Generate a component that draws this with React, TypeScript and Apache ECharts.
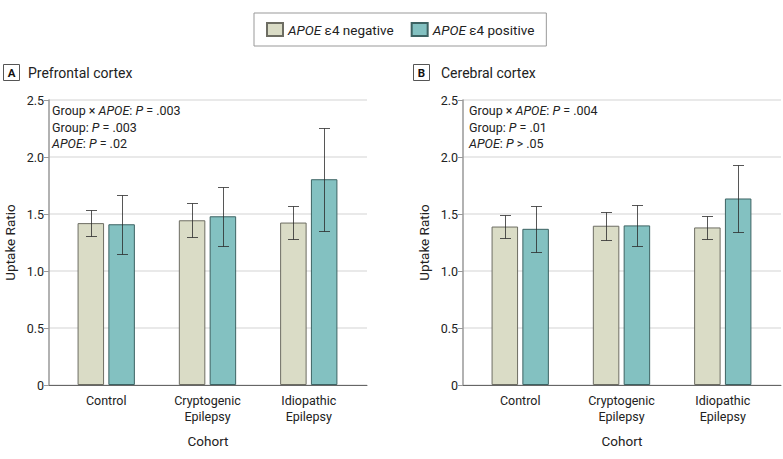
import React, { useEffect, useRef } from "react";
import * as echarts from "echarts";

// ---- Data ----
const categories = ["Control", "Cryptogenic\nEpilepsy", "Idiopathic\nEpilepsy"];
const seriesNames = ["APOE ε4 negative", "APOE ε4 positive"];

const prefrontalNeg = [1.42, 1.445, 1.425];
const prefrontalNegErr = [0.115, 0.148, 0.147];
const prefrontalPos = [1.41, 1.48, 1.805];
const prefrontalPosErr = [0.26, 0.26, 0.452];

const cerebralNeg = [1.39, 1.397, 1.382];
const cerebralNegErr = [0.102, 0.124, 0.104];
const cerebralPos = [1.37, 1.40, 1.636];
const cerebralPosErr = [0.2, 0.18, 0.296];

const yTickValues = [0, 0.5, 1, 1.5, 2, 2.5];

const panelTitles = ["Prefrontal cortex", "Cerebral cortex"];
const panelLetters = ["A", "B"];
const annotationsA = [
  ["Group × ", "APOE", ": ", "P", " = .003"],
  ["Group: ", "", "", "P", " = .003"],
  ["", "APOE", ": ", "P", " = .02"],
];
const annotationsB = [
  ["Group × ", "APOE", ": ", "P", " = .004"],
  ["Group: ", "", "", "P", " = .01"],
  ["", "APOE", ": ", "P", " > .05"],
];

// ---- Style constants ----
const FONT = "Roboto";
const NEG_FILL = "#dadcc6";
const NEG_BORDER = "#6d6d63";
const POS_FILL = "#83c1c1";
const POS_BORDER = "#3d6363";
const BAR_W = 26.5;
const BAR_GAP_PX = 4.3;
const CAP_HALF = 5.5;
const ERR_COLOR = "rgba(40,40,40,0.78)";

const GRID_TOP = 100;
const GRID_H = 285;
const GRID_W = 318;
const GRID_LEFTS = [49, 463];

function buildRich(parts: string[]) {
  const [a, b, c, d, e] = parts;
  let s = "";
  if (a) s += `{n|${a}}`;
  if (b) s += `{i|${b}}`;
  if (c) s += `{n|${c}}`;
  if (d) s += `{i|${d}}`;
  if (e) s += `{n|${e}}`;
  return s;
}

function errorSeries(name: string, values: number[], errs: number[], gridIdx: number, offset: number) {
  return {
    type: "custom",
    name: name + " error",
    xAxisIndex: gridIdx,
    yAxisIndex: gridIdx,
    z: 5,
    silent: true,
    data: values.map((v, i) => [i, v, errs[i]]),
    renderItem: (_params: any, api: any) => {
      const x = api.value(0);
      const m = api.value(1);
      const e = api.value(2);
      const top = api.coord([x, m + e]);
      const bot = api.coord([x, m - e]);
      const cx = Math.round(top[0] + offset) + 0.5;
      const ty = Math.round(top[1]) + 0.5;
      const by = Math.round(bot[1]) + 0.5;
      const style = { stroke: ERR_COLOR, lineWidth: 1, fill: "none" };
      return {
        type: "group",
        children: [
          { type: "line", shape: { x1: cx, y1: ty, x2: cx, y2: by }, style },
          { type: "line", shape: { x1: cx - CAP_HALF, y1: ty, x2: cx + CAP_HALF, y2: ty }, style },
          { type: "line", shape: { x1: cx - CAP_HALF, y1: by, x2: cx + CAP_HALF, y2: by }, style },
        ],
      };
    },
  };
}

export default function App() {
  const ref = useRef<HTMLDivElement>(null);

  useEffect(() => {
    if (!ref.current) return;
    const chart = echarts.init(ref.current, undefined, { renderer: "svg" });

    const grids = GRID_LEFTS.map((l) => ({ left: l, top: GRID_TOP, width: GRID_W, height: GRID_H }));

    const xAxes = GRID_LEFTS.map((_, gi) => ({
      type: "value",
      gridIndex: gi,
      min: -0.565,
      max: 2.575,
      name: "Cohort",
      nameLocation: "middle",
      nameGap: 49,
      nameTextStyle: { fontFamily: FONT, fontSize: 13.5, color: "#222" },
      axisLine: { show: true, onZero: false, lineStyle: { color: "#666", width: 1 } },
      axisTick: { show: false },
      splitLine: { show: false },
      axisLabel: {
        customValues: categories.map((_c, i) => i),
        formatter: (v: number) => categories[Math.round(v)] ?? "",
        fontFamily: FONT,
        fontSize: 12.5,
        color: "#222",
        lineHeight: 16,
        margin: 7,
      },
    }));

    const yAxes = GRID_LEFTS.map((_, gi) => ({
      type: "value",
      gridIndex: gi,
      min: 0,
      max: 2.5,
      interval: 0.5,
      name: "Uptake Ratio",
      nameLocation: "middle",
      nameGap: 32,
      nameTextStyle: { fontFamily: FONT, fontSize: 13.5, color: "#222" },
      axisLine: { show: true, onZero: false, lineStyle: { color: "#999", width: 1.5 } },
      axisTick: { show: true, length: 5, lineStyle: { color: "#999", width: 1 } },
      axisLabel: {
        fontFamily: FONT,
        fontSize: 12.5,
        color: "#222",
        margin: 5,
        formatter: (v: number) => (yTickValues.includes(v) ? (v === 0 ? "0" : v.toFixed(1)) : ""),
      },
      splitLine: { show: true, lineStyle: { color: "#e2e2e2", width: 1.5 } },
    }));

    const barSeries = (name: string, values: number[], gi: number, fill: string, border: string) => ({
      type: "bar",
      name,
      xAxisIndex: gi,
      yAxisIndex: gi,
      barWidth: BAR_W,
      barGap: `${(BAR_GAP_PX / BAR_W) * 100}%`,
      itemStyle: { color: fill, borderColor: border, borderWidth: 1 },
      data: values.map((v, i) => [i, v]),
      z: 2,
    });

    const off = (BAR_W + BAR_GAP_PX) / 2;

    const series: any[] = [
      barSeries(seriesNames[0], prefrontalNeg, 0, NEG_FILL, NEG_BORDER),
      barSeries(seriesNames[1], prefrontalPos, 0, POS_FILL, POS_BORDER),
      barSeries(seriesNames[0], cerebralNeg, 1, NEG_FILL, NEG_BORDER),
      barSeries(seriesNames[1], cerebralPos, 1, POS_FILL, POS_BORDER),
      errorSeries(seriesNames[0], prefrontalNeg, prefrontalNegErr, 0, -off),
      errorSeries(seriesNames[1], prefrontalPos, prefrontalPosErr, 0, off),
      errorSeries(seriesNames[0], cerebralNeg, cerebralNegErr, 1, -off),
      errorSeries(seriesNames[1], cerebralPos, cerebralPosErr, 1, off),
    ];

    const rich = {
      n: { fontFamily: FONT, fontSize: 12.5, color: "#222" },
      i: { fontFamily: FONT, fontSize: 12.5, color: "#222", fontStyle: "italic" },
    };

    const graphics: any[] = [];
    const boxLefts = [3.5, 413.5];
    const titleLefts = [28, 441];
    panelLetters.forEach((letter, pi) => {
      graphics.push({
        type: "rect",
        shape: { x: boxLefts[pi], y: 64.5, width: 16, height: 16 },
        style: { fill: "#fff", stroke: "#555", lineWidth: 1 },
      });
      graphics.push({
        type: "text",
        style: {
          x: boxLefts[pi] + 8,
          y: 73,
          text: letter,
          align: "center",
          verticalAlign: "middle",
          fontFamily: FONT,
          fontWeight: "bold",
          fontSize: 11.5,
          fill: "#111",
        },
      });
      graphics.push({
        type: "text",
        style: {
          x: titleLefts[pi],
          y: 72.5,
          text: panelTitles[pi],
          verticalAlign: "middle",
          fontFamily: FONT,
          fontSize: 14,
          fill: "#222",
        },
      });
    });

    const annLefts = [52, 469];
    const annYs = [110.5, 127, 143.5];
    [annotationsA, annotationsB].forEach((ann, pi) => {
      ann.forEach((parts, li) => {
        graphics.push({
          type: "text",
          style: {
            x: annLefts[pi],
            y: annYs[li],
            text: buildRich(parts),
            rich,
            verticalAlign: "middle",
            fontFamily: FONT,
            fontSize: 12.5,
            fill: "#222",
          },
        });
      });
    });

    chart.setOption({
      animation: false,
      backgroundColor: "#fff",
      textStyle: { fontFamily: FONT },
      legend: {
        data: seriesNames,
        left: 254,
        top: 13,
        orient: "horizontal",
        icon: "rect",
        itemWidth: 16,
        itemHeight: 13,
        itemGap: 17,
        padding: [9, 12, 9, 12],
        borderColor: "#999",
        borderWidth: 1,
        selectedMode: false,
        formatter: (name: string) => name.replace("APOE", "{i|APOE}"),
        textStyle: {
          fontFamily: FONT,
          fontSize: 13.5,
          color: "#222",
          rich: {
            i: { fontFamily: FONT, fontSize: 13.5, color: "#222", fontStyle: "italic" },
          },
        },
      },
      grid: grids,
      xAxis: xAxes,
      yAxis: yAxes,
      series,
      graphic: graphics,
    });

    return () => chart.dispose();
  }, []);

  return (
    <div
      ref={ref}
      style={{ position: "fixed", left: 0, top: 0, width: 783, height: 459, background: "#fff" }}
    />
  );
}
